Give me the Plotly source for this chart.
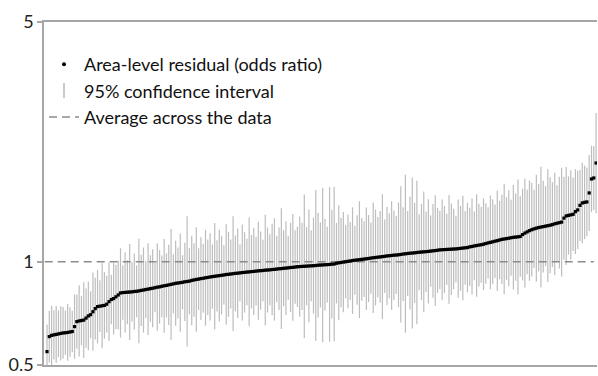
import plotly.graph_objects as go

# Area-level residuals (odds ratio), sorted
residual = [
    0.547, 0.605,
    0.610, 0.612, 0.614, 0.616, 0.618, 0.620, 0.621, 0.622, 0.624, 0.626,
    0.647, 0.669, 0.672, 0.674, 0.676, 0.685, 0.695, 0.701, 0.715, 0.730,
    0.740, 0.742, 0.744, 0.746, 0.752, 0.765, 0.776, 0.781, 0.790, 0.800, 0.811,
    0.813, 0.814, 0.815, 0.816, 0.817, 0.819, 0.820, 0.822,
    0.825, 0.827, 0.830, 0.832, 0.835, 0.837, 0.840,
    0.843, 0.845, 0.848, 0.851, 0.853, 0.856, 0.859, 0.862,
    0.865, 0.867, 0.869, 0.871, 0.874, 0.876, 0.878,
    0.882, 0.885, 0.888, 0.890, 0.893, 0.895, 0.898, 0.900,
    0.903, 0.905, 0.907, 0.909, 0.911, 0.913, 0.915,
    0.918, 0.919, 0.921, 0.923, 0.925, 0.926, 0.928,
    0.930, 0.931, 0.933, 0.934, 0.936, 0.937, 0.939,
    0.941, 0.942, 0.943, 0.945, 0.946, 0.947, 0.949, 0.950, 0.952,
    0.954, 0.955, 0.957, 0.958, 0.960, 0.962, 0.963, 0.965,
    0.967, 0.968, 0.969, 0.970, 0.971, 0.972, 0.973, 0.974, 0.975,
    0.977, 0.978, 0.979, 0.980, 0.981, 0.982, 0.984, 0.985,
    0.990, 0.993, 0.995, 0.998, 1.000, 1.003, 1.005,
    1.008, 1.010, 1.012, 1.014, 1.016, 1.018, 1.020, 1.022,
    1.025, 1.027, 1.029, 1.031, 1.033, 1.035, 1.037,
    1.040, 1.041, 1.043, 1.045, 1.046, 1.048, 1.050,
    1.053, 1.055, 1.057, 1.059, 1.060, 1.062, 1.064,
    1.066, 1.067, 1.069, 1.070, 1.072, 1.074, 1.076, 1.078, 1.080,
    1.083, 1.084, 1.085, 1.086, 1.087, 1.088, 1.089, 1.090,
    1.092, 1.094, 1.096, 1.098, 1.100,
    1.105, 1.108, 1.112, 1.115, 1.118, 1.121, 1.125,
    1.130, 1.135, 1.139, 1.143, 1.148, 1.152, 1.157,
    1.162, 1.165, 1.168, 1.171, 1.175, 1.178,
    1.180, 1.182, 1.185, 1.200, 1.212, 1.222,
    1.232, 1.240, 1.247, 1.253,
    1.258, 1.262, 1.266, 1.270, 1.274, 1.278, 1.283,
    1.290, 1.295, 1.300, 1.305,
    1.340, 1.360, 1.365, 1.370, 1.375, 1.400, 1.416,
    1.460, 1.484, 1.490, 1.494, 1.587, 1.743, 1.755, 1.940,
]

# Multiplicative 95% CI factor for each area (CI = residual / f .. residual * f)
ci_factor = [
    1.20, 1.19, 1.22, 1.18, 1.21, 1.17, 1.20, 1.19, 1.16, 1.21, 1.18, 1.15,
    1.24, 1.20, 1.27, 1.18, 1.29, 1.22, 1.26, 1.17, 1.30, 1.23, 1.28, 1.19, 1.33, 1.25, 1.21, 1.30, 1.18, 1.27, 1.24,
    1.26, 1.35, 1.20, 1.31, 1.24, 1.38, 1.22, 1.29, 1.19, 1.42, 1.27, 1.33, 1.21, 1.36, 1.25, 1.30, 1.18, 1.34, 1.28, 1.23,
    1.37, 1.24, 1.31, 1.45, 1.22, 1.33, 1.27, 1.39, 1.20, 1.30, 1.55, 1.25, 1.35, 1.28, 1.42, 1.23, 1.32, 1.26, 1.38, 1.29,
    1.34, 1.24, 1.43, 1.27, 1.36, 1.30, 1.22, 1.40, 1.33, 1.26, 1.47, 1.29, 1.35, 1.21, 1.38, 1.31, 1.25, 1.44, 1.28, 1.34,
    1.26, 1.39, 1.30, 1.23, 1.45, 1.33, 1.27, 1.36, 1.41, 1.25, 1.32, 1.50, 1.29, 1.37, 1.24, 1.35, 1.43, 1.28, 1.31, 1.40,
    1.34, 1.62, 1.30, 1.46, 1.27, 1.38, 1.66, 1.42, 1.33, 1.68, 1.36, 1.29, 1.68, 1.44, 1.68, 1.31, 1.47, 1.35, 1.40, 1.28,
    1.37, 1.30, 1.43, 1.26, 1.35, 1.48, 1.32, 1.29, 1.41, 1.34, 1.27, 1.45, 1.38, 1.31, 1.36, 1.52, 1.28, 1.39, 1.33, 1.44,
    1.35, 1.30, 1.42, 1.58, 1.37, 1.70, 1.33, 1.46, 1.66, 1.40, 1.62, 1.29, 1.38, 1.50, 1.31, 1.42, 1.27, 1.37, 1.45, 1.33,
    1.30, 1.40, 1.34, 1.27, 1.44, 1.36, 1.31, 1.25, 1.39, 1.33, 1.42, 1.28, 1.35, 1.30, 1.38, 1.26, 1.41, 1.32, 1.29, 1.36,
    1.31, 1.27, 1.37, 1.33, 1.28, 1.40, 1.30, 1.35, 1.45, 1.32, 1.38, 1.29, 1.42, 1.34, 1.47, 1.31, 1.36, 1.44, 1.33, 1.40,
    1.37, 1.30, 1.43, 1.34, 1.50, 1.36, 1.31, 1.46, 1.38, 1.33, 1.41, 1.29, 1.36, 1.44, 1.32, 1.39, 1.30, 1.35, 1.28, 1.33,
    1.30, 1.27, 1.31, 1.28, 1.26, 1.29, 1.25, 1.24, 1.40,
]

average_value = 1.0
y_tick_vals = [0.5, 1, 5]
y_tick_text = ["0.5", "1", "5"]

n = min(len(residual), len(ci_factor))
residual = residual[:n]
ci_factor = ci_factor[:n]
area_rank = list(range(n))
ci_upper = [r * f for r, f in zip(residual, ci_factor)]
ci_lower = [r / f for r, f in zip(residual, ci_factor)]
err_plus = [u - r for u, r in zip(ci_upper, residual)]
err_minus = [r - l for r, l in zip(residual, ci_lower)]

FONT = "Lato, 'Open Sans', Arial, sans-serif"
CI_COLOR = "#bdbdbd"

fig = go.Figure()

# CI bars (drawn as error bars on invisible points)
fig.add_trace(go.Scatter(
    x=area_rank, y=residual, mode="markers",
    marker=dict(size=1, color="rgba(0,0,0,0)"),
    error_y=dict(type="data", symmetric=False, array=err_plus, arrayminus=err_minus,
                 color=CI_COLOR, thickness=1.2, width=0),
    showlegend=False, hoverinfo="skip",
))

# Average line
fig.add_trace(go.Scatter(
    x=[area_rank[0] - 1, area_rank[-1] - 1], y=[average_value, average_value],
    mode="lines", line=dict(color="#8c8c8c", width=1.5, dash="8px,5px"),
    name="Average across the data", legendrank=3,
))

# Residual points
fig.add_trace(go.Scatter(
    x=area_rank, y=residual, mode="markers",
    marker=dict(size=3.2, color="black", symbol="square"),
    name="Area-level residual (odds ratio)", legendrank=1, showlegend=False,
))

# Legend entries
fig.add_trace(go.Scatter(
    x=[None], y=[None], mode="markers",
    marker=dict(symbol="circle", size=4, color="black"),
    name="Area-level residual (odds ratio)", legendrank=1,
))
fig.add_trace(go.Scatter(
    x=[None], y=[None], mode="markers",
    marker=dict(symbol="line-ns-open", size=11, color=CI_COLOR, line=dict(color=CI_COLOR, width=1.6)),
    name="95% confidence interval", legendrank=2,
))

fig.update_layout(
    width=598, height=376,
    margin=dict(l=44, r=1, t=22, b=8),
    paper_bgcolor="white", plot_bgcolor="white",
    font=dict(family=FONT, size=15, color="#222"),
    showlegend=True,
    legend=dict(x=0.0, y=0.93, xanchor="left", yanchor="top",
                bgcolor="rgba(255,255,255,0)", font=dict(family=FONT, size=18, color="#111"),
                itemwidth=30, tracegroupgap=0),
    xaxis=dict(range=[-1.3, n - 1 + 0.4], showticklabels=False, ticks="",
               showgrid=False, zeroline=False, showline=True, linecolor="#a6a6a6",
               linewidth=1.5, mirror=True),
    yaxis=dict(type="log", range=[-0.30106, 0.69899], tickvals=y_tick_vals, ticktext=y_tick_text,
               ticks="outside", ticklen=5, tickcolor="#a6a6a6", tickwidth=1.5,
               ticklabeloverflow="allow",
               showgrid=False, zeroline=False, showline=True, linecolor="#a6a6a6", linewidth=1.5,
               tickfont=dict(family=FONT, size=18, color="#222")),
)

fig.write_html("out.html", config={"displayModeBar": False},
               post_script="document.body.style.margin='0';document.body.style.padding='0';")
